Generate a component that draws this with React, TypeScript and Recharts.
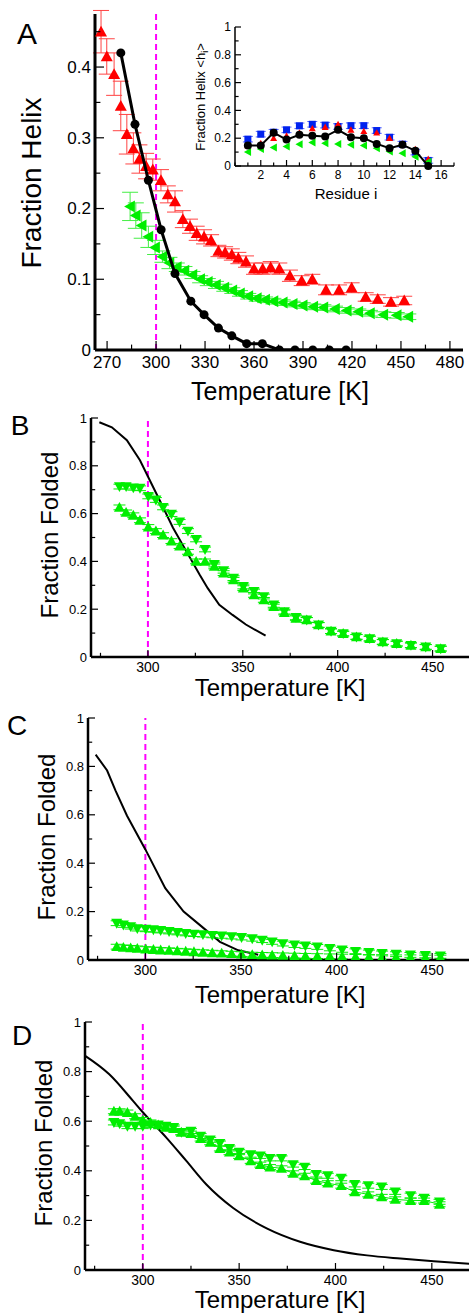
import React from 'react';
import { ComposedChart, Scatter, Line, XAxis, YAxis, ReferenceLine, ErrorBar } from 'recharts';

// ---------- Panel A ----------
const aRedT = [266.3,269.8,274.3,278.4,282.1,286.1,289.8,293.9,298,303,307.2,311.6,316.4,320.8,324.9,329.4,333.7,338.2,342.3,346.4,350.4,355.1,360,365.3,370.2,375.5,382,389.2,395.7,404.1,412.1,419.8,428.4,435.8,443.9,452];
const aRedY = [0.45,0.415,0.39,0.345,0.305,0.285,0.27,0.26,0.255,0.24,0.22,0.21,0.185,0.175,0.165,0.16,0.155,0.14,0.138,0.135,0.13,0.125,0.115,0.115,0.117,0.115,0.105,0.098,0.1,0.085,0.085,0.088,0.075,0.072,0.068,0.07];
const aRedE = [0.03,0.025,0.03,0.035,0.028,0.022,0.02,0.018,0.015,0.015,0.012,0.015,0.012,0.01,0.01,0.01,0.008,0.008,0.008,0.008,0.008,0.008,0.008,0.008,0.008,0.008,0.008,0.007,0.007,0.007,0.007,0.007,0.006,0.006,0.006,0.006];
const aGreenT = [284.1,287.6,291.2,295.3,299.4,303.9,308.2,312.7,317.4,322.3,327,331.7,336.7,341.8,346.7,351.4,356.5,361.7,366.8,371.9,377.6,383.7,389.8,396.3,402.5,409.6,416.8,423.9,431,439.2,447.4,454.5];
const aGreenY = [0.203,0.19,0.176,0.16,0.145,0.132,0.123,0.117,0.112,0.106,0.1,0.096,0.092,0.088,0.084,0.08,0.076,0.073,0.071,0.069,0.067,0.065,0.063,0.061,0.06,0.058,0.056,0.054,0.052,0.05,0.049,0.047];
const aGreenE = [0.02,0.018,0.018,0.015,0.01,0.008,0.008,0.006,0.006,0.005,0.005,0.005,0.005,0.005,0.004,0.004,0.004,0.004,0.004,0.004,0.004,0.004,0.004,0.004,0.004,0.004,0.004,0.004,0.004,0.004,0.004,0.004];
const aBlackT = [278.4,287.1,295.3,303.1,311.6,321.3,329.4,338.2,346.4,355.5,365.1,375.5,385.1,396,406.1,416.4];
const aBlackY = [0.42,0.319,0.24,0.17,0.108,0.069,0.05,0.031,0.02,0.009,0.009,0,0,0,0,0];

// inset
const residues = [1,2,3,4,5,6,7,8,9,10,11,12,13,14,15];
const insBlack = [0.147,0.147,0.24,0.19,0.224,0.217,0.212,0.26,0.207,0.2,0.159,0.128,0.152,0.11,0];
const insBlue = [0.193,0.229,0.243,0.26,0.289,0.3,0.294,0.284,0.29,0.29,0.255,0.207,0.157,0.1,0.04];
const insRed = [0.147,0.163,0.2,0.217,0.24,0.27,0.28,0.3,0.26,0.25,0.24,0.2,0.16,0.12,0.05];
const insGreen = [0.1,0.123,0.133,0.14,0.157,0.169,0.164,0.159,0.152,0.147,0.128,0.104,0.092,0.067,0.031];

// ---------- Panel B ----------
const bT = [285,288.5,292.3,295.8,300.2,304.2,308,312.4,316.7,321.1,325.4,330.1,335,339.9,345.1,350.3,355.9,361.1,366.3,371.9,378,383.7,389.9,396.5,402.9,409.9,416.9,423.8,431.1,438.6,446.4,454.3];
const bDown = [0.713,0.713,0.708,0.706,0.672,0.657,0.626,0.598,0.565,0.527,0.492,0.45,0.387,0.361,0.33,0.295,0.274,0.253,0.218,0.19,0.166,0.155,0.134,0.108,0.098,0.084,0.077,0.063,0.056,0.049,0.042,0.035];
const bUp = [0.626,0.605,0.593,0.572,0.544,0.527,0.51,0.485,0.464,0.44,0.4,0.4,0.379,0.351,0.323,0.288,0.26,0.239,0.211,0.186,0.162,0.155,0.134,0.108,0.098,0.084,0.077,0.063,0.056,0.049,0.042,0.035];
const bLineT = [274.4,281,288.9,295.8,300.2,306.3,313.2,320.2,327.2,331.5,337.6,344.6,351.6,362];
const bLineY = [0.982,0.961,0.907,0.823,0.752,0.654,0.541,0.443,0.345,0.288,0.218,0.176,0.136,0.089];

// ---------- Panel C ----------
const cT = [285,288.5,292.3,295.8,300.2,304.2,308,312.4,316.7,321.1,325.4,330.1,335,339.9,345.1,350.3,355.9,361.1,366.3,371.9,378,383.7,389.9,396.5,402.9,409.9,416.9,423.8,431.1,438.6,446.4,454.3];
const cDown = [0.152,0.145,0.138,0.13,0.127,0.125,0.122,0.118,0.114,0.11,0.107,0.105,0.102,0.1,0.097,0.093,0.088,0.082,0.075,0.068,0.062,0.058,0.054,0.048,0.042,0.036,0.031,0.027,0.024,0.021,0.019,0.017];
const cUp = [0.055,0.052,0.05,0.048,0.045,0.043,0.041,0.04,0.038,0.036,0.034,0.032,0.03,0.028,0.026,0.024,0.022,0.021,0.02,0.019,0.018,0.017,0.016,0.015,0.014,0.013,0.012,0.012,0.011,0.011,0.01,0.01];
const cLineT = [274,280,284.4,290.4,300,310.4,320,329.5,339,348.6,359];
const cLineY = [0.849,0.783,0.7,0.596,0.457,0.297,0.2,0.138,0.075,0.04,0.022];

// ---------- Panel D ----------
const dT = [285,288,292,296,300,304,308,312,316,320,325,330,335,340,345,350,356,361,366,372,378,384,390,396,403,410,417,424,431,439,446,454];
const dUp = [0.64,0.64,0.635,0.62,0.605,0.595,0.585,0.575,0.57,0.555,0.55,0.53,0.515,0.49,0.475,0.46,0.44,0.425,0.415,0.41,0.39,0.38,0.36,0.35,0.34,0.315,0.305,0.295,0.285,0.28,0.28,0.265];
const dDown = [0.595,0.59,0.58,0.58,0.58,0.585,0.585,0.58,0.575,0.555,0.56,0.54,0.525,0.51,0.49,0.475,0.465,0.46,0.45,0.45,0.425,0.415,0.385,0.38,0.37,0.345,0.34,0.335,0.315,0.3,0.29,0.275];
const dLineT = [269.6,282.6,294.8,300,312.2,322.6,333,346.9,364.3,381.6,399.1,416.4,433.7,451,469.6];
const dLineY = [0.866,0.789,0.683,0.636,0.534,0.44,0.345,0.25,0.168,0.114,0.08,0.059,0.046,0.035,0.025];

const zip = (xs: number[], ys: number[], es?: number[]) => xs.map((x, i) => ({ x, y: ys[i], e: es ? es[i] : 0 }));

const FONT = '"Liberation Sans", Arial, sans-serif';
const GREEN = '#00ee00';

const Tri = (dir: 'up' | 'down' | 'left', color: string, s: number) => (p: any) => {
  const { cx, cy } = p;
  if (cx == null || cy == null) return <g />;
  let pts = '';
  if (dir === 'up') pts = `${cx},${cy - s} ${cx - s},${cy + s * 0.8} ${cx + s},${cy + s * 0.8}`;
  if (dir === 'down') pts = `${cx},${cy + s} ${cx - s},${cy - s * 0.8} ${cx + s},${cy - s * 0.8}`;
  if (dir === 'left') pts = `${cx - s},${cy} ${cx + s * 0.8},${cy - s} ${cx + s * 0.8},${cy + s}`;
  return <polygon points={pts} fill={color} />;
};
const Circ = (color: string, r: number) => (p: any) => <circle cx={p.cx} cy={p.cy} r={r} fill={color} />;
const Sq = (color: string, s: number) => (p: any) => <rect x={p.cx - s} y={p.cy - s} width={2 * s} height={2 * s} fill={color} />;

const makeXTick = (fs: number, labelEvery: (v: number) => boolean, len: number, top = false, show = true) => (p: any) => {
  const { x, y, payload } = p;
  const major = labelEvery(payload.value);
  const l = major ? len : len * 0.6;
  return (
    <g>
      <line x1={x} x2={x} y1={y} y2={top ? y + l : y - l} stroke="#000" strokeWidth={1.2} />
      {show && major && !top ? (
        <text x={x} y={y + fs + 1} textAnchor="middle" fontSize={fs} fontFamily={FONT} fill="#000">{payload.value}</text>
      ) : null}
    </g>
  );
};
const makeYTick = (fs: number, labelEvery: (v: number) => boolean, len: number, right = false, show = true) => (p: any) => {
  const { x, y, payload } = p;
  const major = labelEvery(payload.value);
  const l = major ? len : len * 0.6;
  const v = Math.round(payload.value * 100) / 100;
  return (
    <g>
      <line x1={x} x2={right ? x - l : x + l} y1={y} y2={y} stroke="#000" strokeWidth={1.2} />
      {show && major && !right ? (
        <text x={x - 4} y={y + fs * 0.35} textAnchor="end" fontSize={fs} fontFamily={FONT} fill="#000">{String(v)}</text>
      ) : null}
    </g>
  );
};

const Txt = ({ x, y, s, children, rot }: any) => (
  <div style={{ position: 'absolute', left: x, top: y, fontSize: s, fontFamily: FONT, whiteSpace: 'nowrap', transform: rot ? 'translate(-50%,-50%) rotate(-90deg)' : 'translate(-50%,-50%)', lineHeight: 1 }}>{children}</div>
);

const near = (v: number, step: number) => Math.abs(v / step - Math.round(v / step)) < 1e-6;

function PanelA() {
  const xt = [270, 285, 300, 315, 330, 345, 360, 375, 390, 405, 420, 435, 450, 465, 480];
  const yt = [0, 0.05, 0.1, 0.15, 0.2, 0.25, 0.3, 0.35, 0.4, 0.45];
  const xl = (v: number) => near(v, 30);
  const yl = (v: number) => near(v, 0.1);
  return (
    <div style={{ position: 'absolute', left: 0, top: 0 }}>
      <ComposedChart width={469} height={380} margin={{ top: 14, right: 6, left: 45, bottom: 0 }}>
        <XAxis xAxisId="b" dataKey="x" type="number" domain={[262.6, 488]} ticks={xt} interval={0} allowDataOverflow tickSize={0} tickMargin={0} axisLine={{ stroke: '#000', strokeWidth: 3 }} tick={makeXTick(17, xl, 9)} height={30} />
        <XAxis xAxisId="t" orientation="top" dataKey="x" type="number" domain={[262.6, 488]} ticks={xt} interval={0} allowDataOverflow tickSize={0} tickMargin={0} axisLine={{ stroke: '#000', strokeWidth: 3 }} tick={makeXTick(17, xl, 9, true)} height={0} />
        <YAxis yAxisId="l" type="number" domain={[0, 0.475]} ticks={yt} interval={0} allowDataOverflow tickSize={0} tickMargin={0} axisLine={{ stroke: '#000', strokeWidth: 3 }} tick={makeYTick(17, yl, 9)} width={50} />
        <YAxis yAxisId="r" orientation="right" type="number" domain={[0, 0.475]} ticks={yt} interval={0} tickSize={0} tickMargin={0} axisLine={{ stroke: '#000', strokeWidth: 3 }} tick={makeYTick(17, yl, 9, true)} width={0} />
        <ReferenceLine xAxisId="b" yAxisId="l" x={300} stroke="#ff00ff" strokeWidth={2} strokeDasharray="6 4" />
        <Scatter xAxisId="b" yAxisId="l" data={zip(aRedT, aRedY, aRedE)} dataKey="y" shape={Tri('up', '#ff0000', 6)} isAnimationActive={false}>
          <ErrorBar dataKey="e" direction="y" stroke="#ff4444" strokeWidth={1} width={8} />
        </Scatter>
        <Scatter xAxisId="b" yAxisId="l" data={zip(aGreenT, aGreenY, aGreenE)} dataKey="y" shape={Tri('left', GREEN, 6)} isAnimationActive={false}>
          <ErrorBar dataKey="e" direction="y" stroke="#44ee44" strokeWidth={1} width={8} />
        </Scatter>
        <Scatter xAxisId="b" yAxisId="l" data={zip(aBlackT, aBlackY)} dataKey="y" shape={Circ('#000', 4.5)} line={{ stroke: '#000', strokeWidth: 3 }} isAnimationActive={false} />
      </ComposedChart>
    </div>
  );
}

function Inset() {
  const xt = [0, 1, 2, 3, 4, 5, 6, 7, 8, 9, 10, 11, 12, 13, 14, 15, 16, 17];
  const yt = [0, 0.1, 0.2, 0.3, 0.4, 0.5, 0.6, 0.7, 0.8, 0.9, 1];
  const xl = (v: number) => v > 0 && v <= 16 && near(v, 2);
  const yl = (v: number) => near(v, 0.2);
  return (
    <div style={{ position: 'absolute', left: 0, top: 0 }}>
      <ComposedChart width={469} height={186} margin={{ top: 27, right: 15, left: 195, bottom: 0 }}>
        <XAxis xAxisId="b" dataKey="x" type="number" domain={[0, 17]} ticks={xt} interval={0} tickSize={0} tickMargin={0} axisLine={{ stroke: '#000', strokeWidth: 1.5 }} tick={makeXTick(12, xl, 6)} height={20} />
        <XAxis xAxisId="t" orientation="top" dataKey="x" type="number" domain={[0, 17]} ticks={xt} interval={0} tickSize={0} tickMargin={0} axisLine={{ stroke: '#000', strokeWidth: 1.5 }} tick={makeXTick(12, xl, 6, true)} height={0} />
        <YAxis yAxisId="l" type="number" domain={[0, 1]} ticks={yt} interval={0} tickSize={0} tickMargin={0} axisLine={{ stroke: '#000', strokeWidth: 1.5 }} tick={makeYTick(12, yl, 6)} width={40} />
        <YAxis yAxisId="r" orientation="right" type="number" domain={[0, 1]} ticks={yt} interval={0} tickSize={0} tickMargin={0} axisLine={{ stroke: '#000', strokeWidth: 1.5 }} tick={makeYTick(12, yl, 6, true)} width={0} />
        <Scatter xAxisId="b" yAxisId="l" data={zip(residues, insBlue, residues.map(() => 0.02))} dataKey="y" shape={Sq('#0022ee', 3.5)} isAnimationActive={false}>
          <ErrorBar dataKey="e" direction="y" stroke="#5566ff" strokeWidth={1} width={5} />
        </Scatter>
        <Scatter xAxisId="b" yAxisId="l" data={zip(residues, insRed)} dataKey="y" shape={Tri('up', '#ff0000', 3.5)} isAnimationActive={false} />
        <Scatter xAxisId="b" yAxisId="l" data={zip(residues, insGreen)} dataKey="y" shape={Tri('left', GREEN, 4)} isAnimationActive={false} />
        <Scatter xAxisId="b" yAxisId="l" data={zip(residues, insBlack)} dataKey="y" shape={Circ('#000', 4)} line={{ stroke: '#000', strokeWidth: 2 }} isAnimationActive={false} />
      </ComposedChart>
    </div>
  );
}

function FoldPanel({ top, left, height, up, down, T, lT, lY, greenLine, smooth }: any) {
  const xt = [275, 300, 325, 350, 375, 400, 425, 450];
  const yt = [0, 0.1, 0.2, 0.3, 0.4, 0.5, 0.6, 0.7, 0.8, 0.9, 1];
  const xl = (v: number) => near(v, 50);
  const yl = (v: number) => near(v, 0.2);
  return (
    <div style={{ position: 'absolute', left: 0, top: top - 10 }}>
      <ComposedChart width={480} height={height + 42} margin={{ top: 12, right: 0, left: left - 45, bottom: 0 }}>
        <XAxis xAxisId="b" dataKey="x" type="number" domain={[270, 475]} ticks={xt} interval={0} allowDataOverflow tickSize={0} tickMargin={0} axisLine={{ stroke: '#000', strokeWidth: 2.5 }} tick={makeXTick(14, xl, 7)} height={30} />
        <XAxis xAxisId="t" orientation="top" dataKey="x" type="number" domain={[270, 475]} ticks={xt} interval={0} tick={false} tickLine={false} axisLine={{ stroke: '#000', strokeWidth: 2.5 }} height={0} />
        <YAxis yAxisId="l" type="number" domain={[0, 1]} ticks={yt} interval={0} allowDataOverflow tickSize={0} tickMargin={0} axisLine={{ stroke: '#000', strokeWidth: 2.5 }} tick={makeYTick(13, yl, 7)} width={45} />
        <ReferenceLine xAxisId="b" yAxisId="l" x={300} stroke="#ff00ff" strokeWidth={2} strokeDasharray="6 4" />
        <Line xAxisId="b" yAxisId="l" data={zip(lT, lY)} dataKey="y" type={smooth ? 'monotone' : 'linear'} stroke="#000" strokeWidth={2} dot={false} isAnimationActive={false} />
        <Scatter xAxisId="b" yAxisId="l" data={zip(T, up, T.map(() => 0.01))} dataKey="y" shape={Tri('up', GREEN, 5.5)} line={greenLine ? { stroke: GREEN, strokeWidth: 1 } : false} isAnimationActive={false}>
          <ErrorBar dataKey="e" direction="y" stroke={GREEN} strokeWidth={1} width={6} />
        </Scatter>
        <Scatter xAxisId="b" yAxisId="l" data={zip(T, down, T.map(() => 0.01))} dataKey="y" shape={Tri('down', GREEN, 5.5)} isAnimationActive={false}>
          <ErrorBar dataKey="e" direction="y" stroke={GREEN} strokeWidth={1} width={6} />
        </Scatter>
      </ComposedChart>
    </div>
  );
}

export default function App() {
  return (
    <div style={{ position: 'absolute', left: 0, top: 0, width: 469, height: 1314, overflow: 'hidden', background: '#fff' }}>
      <PanelA />
      <Inset />
      <Txt x={27} y={34} s={30}>A</Txt>
      <Txt x={32} y={183} s={28} rot>Fraction Helix</Txt>
      <Txt x={280} y={391} s={25}>Temperature [K]</Txt>
      <Txt x={202} y={97} s={13} rot>Fraction Helix &lt;h<sub style={{ fontSize: 9 }}>i</sub>&gt;</Txt>
      <Txt x={346} y={193} s={15}>Residue i</Txt>

      <FoldPanel top={416} left={91} height={239} up={bUp} down={bDown} T={bT} lT={bLineT} lY={bLineY} />
      <Txt x={20} y={426} s={28}>B</Txt>
      <Txt x={50} y={535} s={24} rot>Fraction Folded</Txt>
      <Txt x={280} y={688} s={24}>Temperature [K]</Txt>

      <FoldPanel top={716} left={88} height={242} up={cUp} down={cDown} T={cT} lT={cLineT} lY={cLineY} />
      <Txt x={17} y={726} s={28}>C</Txt>
      <Txt x={47} y={837} s={24} rot>Fraction Folded</Txt>
      <Txt x={280} y={995} s={24}>Temperature [K]</Txt>

      <FoldPanel top={1020} left={85} height={248} up={dUp} down={dDown} T={dT} lT={dLineT} lY={dLineY} greenLine smooth />
      <Txt x={22} y={1036} s={28}>D</Txt>
      <Txt x={44} y={1143} s={24} rot>Fraction Folded</Txt>
      <Txt x={280} y={1300} s={24}>Temperature [K]</Txt>
    </div>
  );
}
